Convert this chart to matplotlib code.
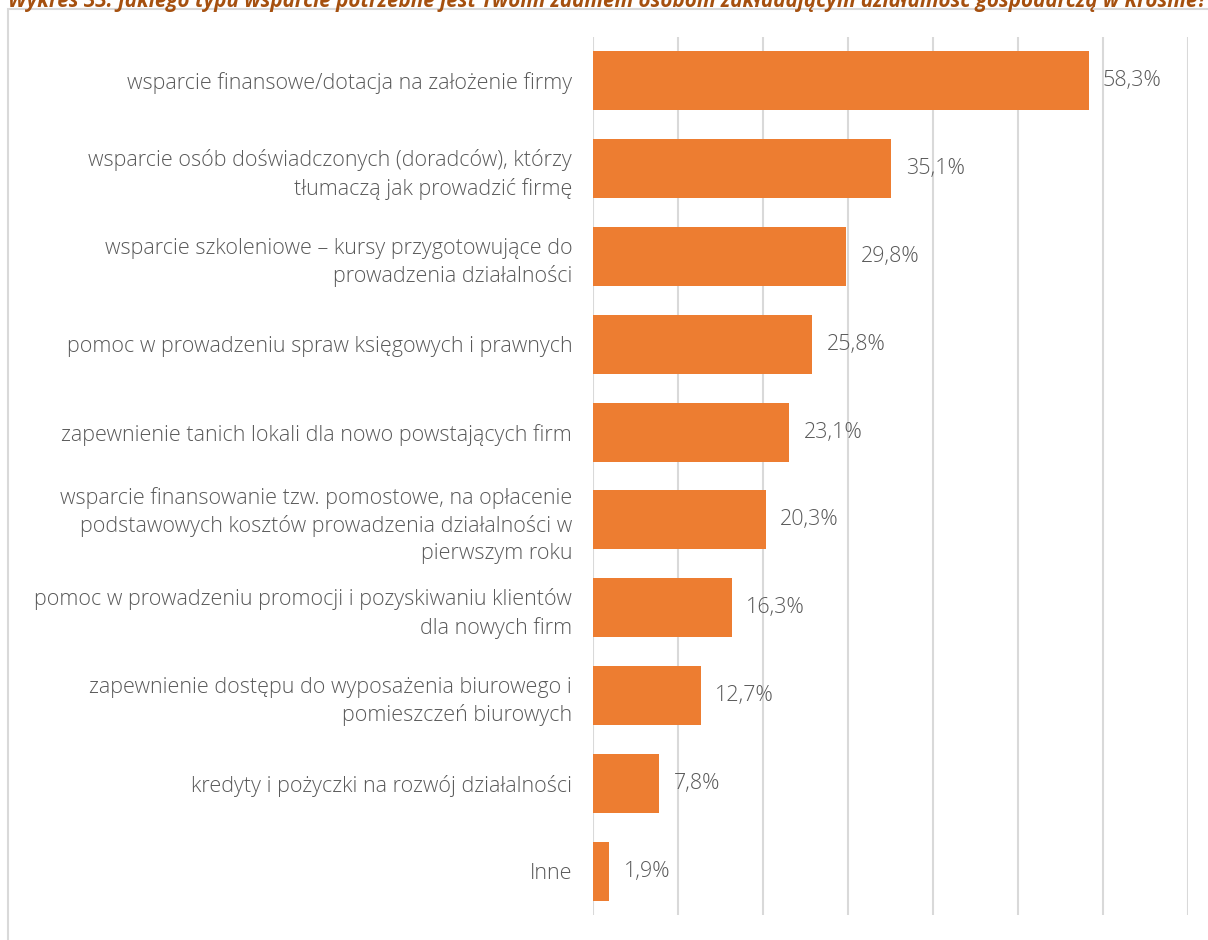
import matplotlib.pyplot as plt
from matplotlib.patches import Rectangle

categories = [
    "wsparcie finansowe/dotacja na założenie firmy",
    "wsparcie osób doświadczonych (doradców), którzy\ntłumaczą jak prowadzić firmę",
    "wsparcie szkoleniowe – kursy przygotowujące do\nprowadzenia działalności",
    "pomoc w prowadzeniu spraw księgowych i prawnych",
    "zapewnienie tanich lokali dla nowo powstających firm",
    "wsparcie finansowanie tzw. pomostowe, na opłacenie\npodstawowych kosztów prowadzenia działalności w\npierwszym roku",
    "pomoc w prowadzeniu promocji i pozyskiwaniu klientów\ndla nowych firm",
    "zapewnienie dostępu do wyposażenia biurowego i\npomieszczeń biurowych",
    "kredyty i pożyczki na rozwój działalności",
    "Inne",
]
values = [58.3, 35.1, 29.8, 25.8, 23.1, 20.3, 16.3, 12.7, 7.8, 1.9]

title = ("Wykres 33. Jakiego typu wsparcie potrzebne jest Twoim zdaniem osobom "
         "zakładającym działalność gospodarczą w Krośnie?")

plt.rcParams['font.family'] = ['Open Sans', 'DejaVu Sans']

fig = plt.figure(figsize=(12.08, 9.4), dpi=100)
ax = fig.add_axes([593 / 1208, 1 - 915 / 940, 595 / 1208, 878 / 940])

y = list(range(len(categories)))
ax.barh(y, values, height=0.67, color='#ED7D31', zorder=3)
ax.set_ylim(len(categories) - 0.5, -0.5)
ax.set_xlim(0, 70)
ax.set_xticks(range(0, 71, 10))
ax.xaxis.grid(True, color='#D9D9D9', linewidth=1.5, zorder=0)
ax.tick_params(axis='x', length=0, labelbottom=False)
ax.tick_params(axis='y', length=0, pad=15)
ax.set_yticks(y)
ax.set_yticklabels(categories, fontsize=15.5, color='#595959', linespacing=1.38,
                   fontweight='light')

for s in ax.spines.values():
    s.set_visible(False)

for yi, v in zip(y, values):
    ax.text(v + 1.7, yi, f"{v:.1f}%".replace('.', ','), va='center', ha='left',
            fontsize=15.5, color='#595959', fontweight='light')

# chart border (cut by image edges)
fig.patches.append(Rectangle((8 / 1208, -0.05), 1.1, 1 - 9 / 940 + 0.05,
                             transform=fig.transFigure, fill=False,
                             edgecolor='#D9D9D9', linewidth=1.5))

fig.text(8 / 1208, 1 - 7 / 940, title, ha='left', va='baseline', fontsize=14.9,
         style='italic', fontweight='bold', color='#A5500F')

fig.savefig('out.png', dpi=100)
